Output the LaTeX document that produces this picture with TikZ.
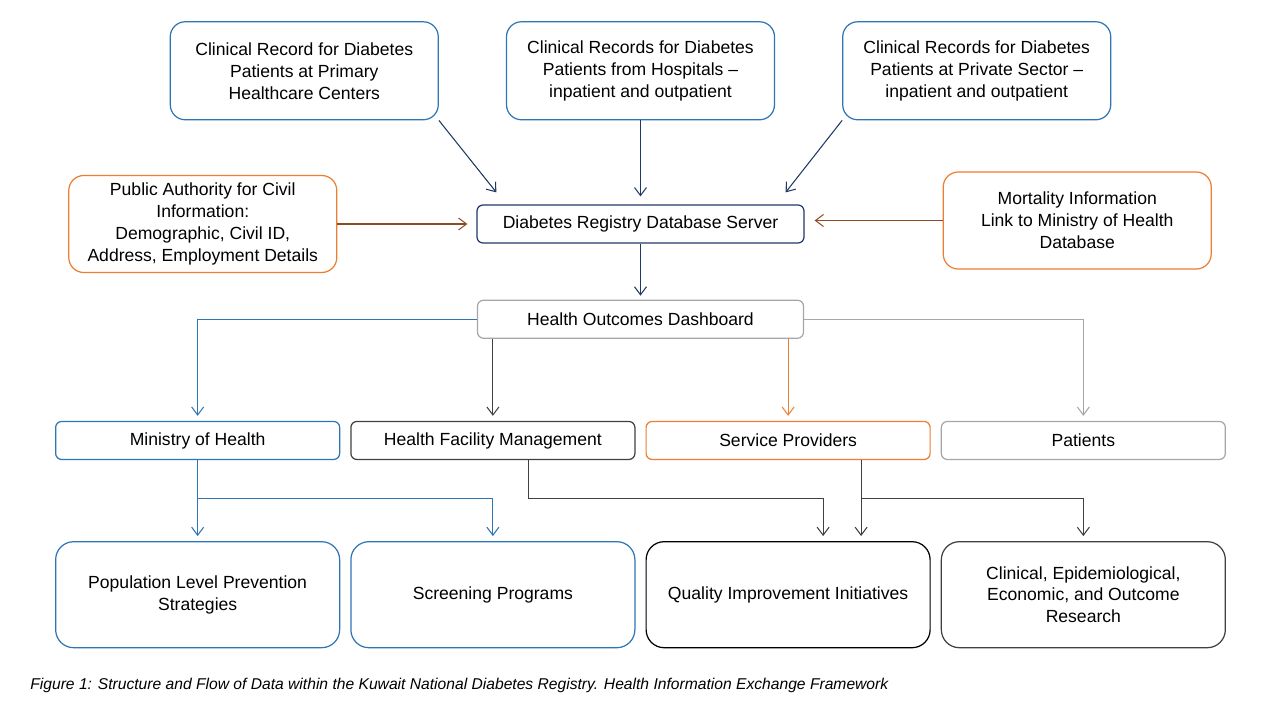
\documentclass[tikz,border=0pt]{standalone}
\usepackage{fontspec}
\setmainfont{Liberation Sans}
\usetikzlibrary{arrows.meta, positioning, calc}
\definecolor{regblue}{HTML}{2E75B6}
\definecolor{navy}{HTML}{203864}
\definecolor{regorange}{HTML}{ED7D31}
\definecolor{rust}{HTML}{8E4A22}
\definecolor{midgrey}{HTML}{A6A6A6}
\definecolor{darkgrey}{HTML}{404040}

\begin{document}
\begin{tikzpicture}[
    font=\fontsize{10}{12.5}\selectfont,
    srcbox/.style={draw, rounded corners=0.3cm, minimum width=5.36cm, minimum height=1.96cm, align=center, line width=0.7pt},
    flatbox/.style={draw, rounded corners=0.12cm, minimum width=5.68cm, minimum height=0.76cm, inner sep=0, line width=0.7pt},
    outbox/.style={draw, rounded corners=0.36cm, minimum width=5.68cm, minimum height=2.12cm, align=center, line width=0.7pt},
    flow/.style={->, line width=0.6pt},
    >={Straight Barb[length=1.6mm,width=2.4mm]}
]
\useasboundingbox (0,0) rectangle (25.6,-14.4);

\node[flatbox, draw=navy, minimum width=6.54cm] (server) at (12.81,-4.48) {Diabetes Registry Database Server};
\node[srcbox, draw=regblue, above=1.68cm of server] (hosp) {Clinical Records for Diabetes\\Patients from Hospitals –\\inpatient and outpatient};
\node[srcbox, draw=regblue, left=1.34cm of hosp] (prim) {Clinical Record for Diabetes\\Patients at Primary\\Healthcare Centers};
\node[srcbox, draw=regblue, right=1.34cm of hosp] (priv) {Clinical Records for Diabetes\\Patients at Private Sector –\\inpatient and outpatient};
\node[srcbox, draw=regorange, minimum height=1.94cm, left=2.78cm of server] (paci) {Public Authority for Civil\\Information:\\Demographic, Civil ID,\\Address, Employment Details};
\node[srcbox, draw=regorange, minimum height=1.94cm, right=2.76cm of server, yshift=0.07cm] (mort) {Mortality Information\\Link to Ministry of Health\\Database};

\node[flatbox, draw=midgrey, minimum width=6.52cm, below=1.12cm of server] (dash) {Health Outcomes Dashboard};
\node[flatbox, draw=darkgrey, below left=1.64cm and 0.1cm of dash.south] (hfm) {Health Facility Management};
\node[flatbox, draw=regorange, below right=1.64cm and 0.1cm of dash.south] (sp) {Service Providers};
\node[flatbox, draw=regblue, left=0.2cm of hfm] (moh) {Ministry of Health};
\node[flatbox, draw=midgrey, right=0.2cm of sp] (pat) {Patients};

\node[outbox, draw=regblue, below=1.62cm of moh] (pop) {Population Level Prevention\\Strategies};
\node[outbox, draw=regblue, below=1.62cm of hfm] (scr) {Screening Programs};
\node[outbox, draw=black, below=1.62cm of sp] (qii) {Quality Improvement Initiatives};
\node[outbox, draw=darkgrey, below=1.62cm of pat] (res) {Clinical, Epidemiological,\\Economic, and Outcome\\Research};

\node[anchor=west, inner sep=0, font=\fontsize{8.9}{10}\selectfont\itshape] (caption) at (0.6,-13.7) {Figure 1: Structure and Flow of Data within the Kuwait National Diabetes Registry. Health Information Exchange Framework};

\draw[flow, navy] (prim.south east) -- ([shift={(0.4,0.24)}]server.north west);
\draw[flow, navy, shorten >=0.16cm] (hosp) -- (server);
\draw[flow, navy] (priv.south west) -- ([shift={(-0.38,0.24)}]server.north east);
\draw[flow, rust, shorten >=0.18cm] (paci) -- (server);
\draw[flow, rust, shorten >=0.2cm] (mort.west) -- (mort.west -| server.east);
\draw[flow, navy, shorten >=0.08cm] (server) -- (dash);

\draw[flow, regblue, shorten >=0.1cm] (dash.west) -| (moh.north);
\draw[flow, darkgrey, shorten >=0.1cm] (dash.south -| hfm.north) -- (hfm.north);
\draw[flow, regorange, shorten >=0.1cm] (dash.south -| sp.north) -- (sp.north);
\draw[flow, midgrey, shorten >=0.1cm] (dash.east) -| (pat.north);

\coordinate (mohsplit) at ([yshift=-0.76cm]moh.south);
\coordinate (spsplit) at ([xshift=1.46cm,yshift=-0.76cm]sp.south);
\draw[flow, regblue, shorten >=0.1cm] (moh.south) -- (pop.north);
\draw[flow, regblue, shorten >=0.1cm] (mohsplit) -| (scr.north);
\draw[flow, darkgrey, shorten >=0.1cm] ([xshift=0.72cm]hfm.south) -- ++(0,-0.76) -| ([xshift=0.7cm]qii.north);
\draw[flow, darkgrey, shorten >=0.1cm] ([xshift=1.46cm]sp.south) -- ([xshift=1.46cm]qii.north);
\draw[flow, darkgrey, shorten >=0.1cm] (spsplit) -| (res.north);
\end{tikzpicture}
\end{document}
